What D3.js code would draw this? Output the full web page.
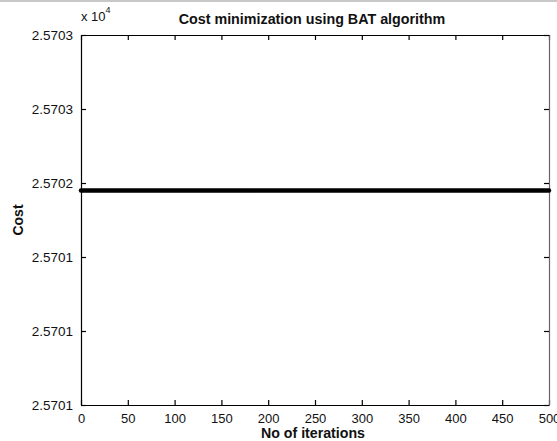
<!DOCTYPE html>
<html>
<head>
<meta charset="utf-8">
<script src="https://cdn.jsdelivr.net/npm/d3@7"></script>
<style>
  body { margin: 0; background: #fff; }
  svg { display: block; font-family: "Liberation Sans", Arial, sans-serif; }
</style>
</head>
<body>
<svg id="chart"></svg>
<script>
// data
const iterations = [0, 500];
const cost = [25702.16, 25702.16];
const xTicks = [0, 50, 100, 150, 200, 250, 300, 350, 400, 450, 500];
const yTicks = [25701.0, 25701.4, 25701.8, 25702.2, 25702.6, 25703.0];
const yTickLabels = ["2.5701", "2.5701", "2.5701", "2.5702", "2.5703", "2.5703"];

const width = 557, height = 441;
const margin = {top: 35, right: 8, bottom: 36, left: 81};

const svg = d3.select("#chart")
    .attr("width", width)
    .attr("height", height);

// thin grey strip at the very top of the screenshot
svg.append("rect")
    .attr("x", 0).attr("y", 0)
    .attr("width", width).attr("height", 2)
    .attr("fill", "#c8c8c8");

const x = d3.scaleLinear()
    .domain([0, 500])
    .range([margin.left, width - margin.right]);

const y = d3.scaleLinear()
    .domain([yTicks[0], yTicks[yTicks.length - 1]])
    .range([height - margin.bottom, margin.top]);

// bottom axis
const xAxis = svg.append("g")
    .attr("transform", `translate(0,${height - margin.bottom})`)
    .call(d3.axisBottom(x).tickValues(xTicks).tickSize(-5).tickPadding(9).tickSizeOuter(0));
// top axis (ticks only)
const xAxisTop = svg.append("g")
    .attr("transform", `translate(0,${margin.top})`)
    .call(d3.axisTop(x).tickValues(xTicks).tickSize(-5).tickFormat("").tickSizeOuter(0));
// left axis
const yAxis = svg.append("g")
    .attr("transform", `translate(${margin.left},0)`)
    .call(d3.axisLeft(y).tickValues(yTicks).tickSize(-5).tickPadding(8).tickSizeOuter(0)
        .tickFormat((d, i) => yTickLabels[i]));
// right axis (ticks only)
const yAxisRight = svg.append("g")
    .attr("transform", `translate(${width - margin.right},0)`)
    .call(d3.axisRight(y).tickValues(yTicks).tickSize(-5).tickFormat("").tickSizeOuter(0));

[xAxis, xAxisTop, yAxis, yAxisRight].forEach(g => {
    g.select(".domain").attr("stroke", "#000").attr("stroke-width", 1.2);
    g.selectAll(".tick line").attr("stroke", "#000").attr("stroke-width", 1.2);
    g.selectAll("text")
        .attr("fill", "#111")
        .style("font-size", "13px")
        .style("font-family", "'Liberation Sans', Arial, sans-serif");
});
yAxis.selectAll("text").style("font-size", "13.5px");
yAxisRight.select(".domain").attr("stroke", "#666");

// the cost line
const line = d3.line()
    .x((d, i) => x(iterations[i]))
    .y(d => y(d));

svg.append("path")
    .datum(cost)
    .attr("d", line)
    .attr("fill", "none")
    .attr("stroke", "#000")
    .attr("stroke-width", 4.5)
    .attr("stroke-linecap", "round");

// exponent label
const expo = svg.append("text")
    .attr("x", margin.left)
    .attr("y", 21)
    .style("font-size", "13px")
    .attr("fill", "#111");
expo.append("tspan").text("x 10");
expo.append("tspan").attr("dy", -8).style("font-size", "9px").text("4");

// title
svg.append("text")
    .attr("x", 312)
    .attr("y", 24)
    .attr("text-anchor", "middle")
    .style("font-size", "14.3px")
    .style("font-weight", "bold")
    .attr("fill", "#111")
    .text("Cost minimization using BAT algorithm");

// axis labels
svg.append("text")
    .attr("x", 313)
    .attr("y", 438)
    .attr("text-anchor", "middle")
    .style("font-size", "14.2px")
    .style("font-weight", "bold")
    .attr("fill", "#111")
    .text("No of iterations");

svg.append("text")
    .attr("transform", `translate(23,${(margin.top + height - margin.bottom) / 2}) rotate(-90)`)
    .attr("text-anchor", "middle")
    .style("font-size", "14px")
    .style("font-weight", "bold")
    .attr("fill", "#111")
    .text("Cost");
</script>
</body>
</html>
